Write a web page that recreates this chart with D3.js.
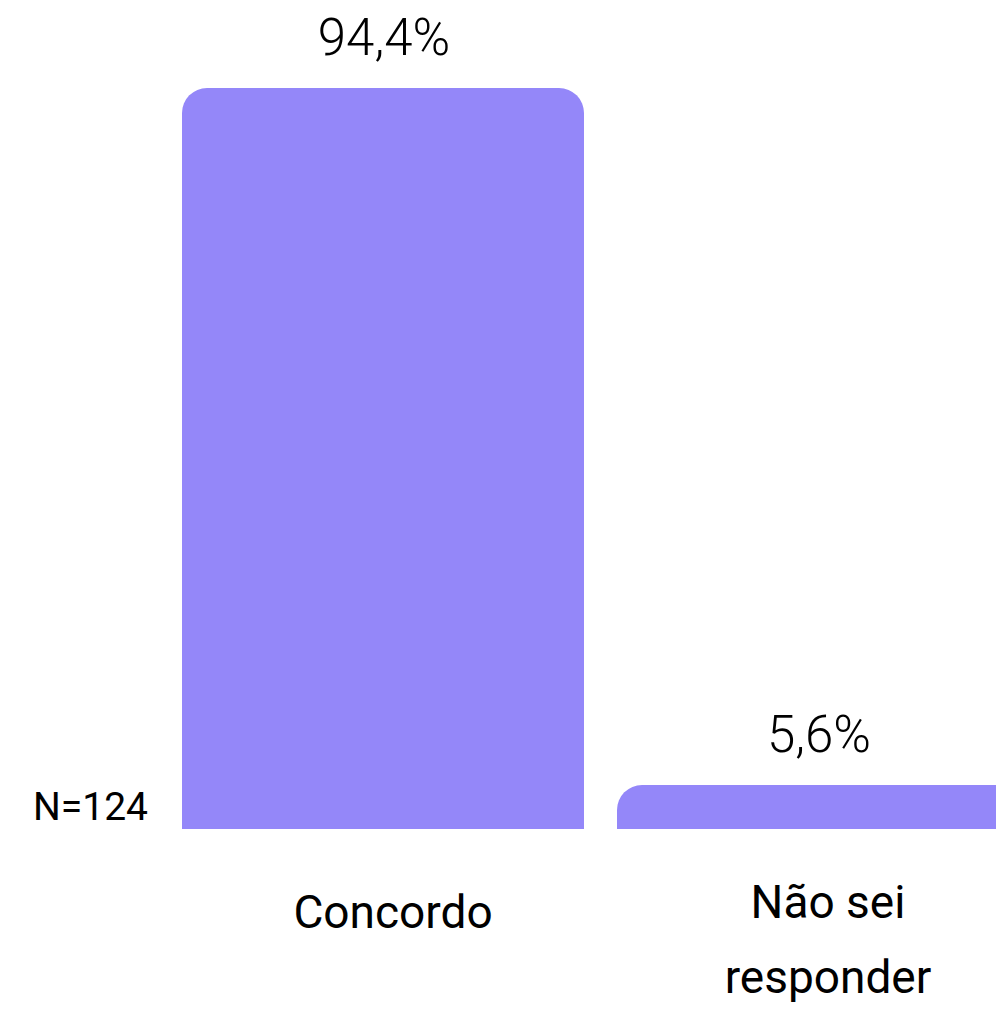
<!DOCTYPE html>
<html><head><meta charset="utf-8">
<script src="https://cdn.jsdelivr.net/npm/d3@7"></script>
<style>
html,body{margin:0;padding:0;background:#fff;}
svg{display:block;}
</style></head>
<body>
<script>
const categories = ["Concordo", "Não sei responder"];
const categoryLines = [["Concordo"], ["Não sei", "responder"]];
const values = [94.4, 5.6];
const valueLabels = ["94,4%", "5,6%"];
const sampleNote = "N=124";

const W = 996, H = 1011;
const svg = d3.select("body").append("svg").attr("width", W).attr("height", H);

const x = d3.scaleBand().domain(categories).range([182, 1019]).paddingInner(33/435).paddingOuter(0);
const y = d3.scaleLinear().domain([0, 94.4]).range([829, 88]);
const color = "#9487F9";
const r = 25;

function barPath(x0, y0, w, h) {
  const rr = Math.min(r, h, w/2);
  return `M${x0},${y0+h} L${x0},${y0+rr} A${rr},${rr} 0 0 1 ${x0+rr},${y0} L${x0+w-rr},${y0} A${rr},${rr} 0 0 1 ${x0+w},${y0+rr} L${x0+w},${y0+h} Z`;
}

svg.selectAll("path.bar").data(categories).join("path")
  .attr("class","bar")
  .attr("fill", color)
  .attr("d", (d,i) => barPath(x(d), y(values[i]), x.bandwidth(), y(0) - y(values[i])));

svg.selectAll("text.val").data(categories).join("text")
  .attr("class","val")
  .attr("x", d => x(d) + x.bandwidth()/2 + 1)
  .attr("y", (d,i) => y(values[i]) - 33)
  .attr("text-anchor","middle")
  .attr("font-family","Roboto, sans-serif")
  .attr("font-weight", 300)
  .attr("font-size", 51)
  .attr("fill","#000")
  .text((d,i) => valueLabels[i]);

// x axis labels
const axis = d3.axisBottom(x).tickSize(0).tickFormat("");
const gx = svg.append("g").attr("transform", `translate(0,${y(0)})`).call(axis);
gx.select(".domain").remove();
gx.selectAll(".tick").each(function(d, i) {
  const lines = categoryLines[i];
  const t = d3.select(this).append("text")
    .attr("text-anchor","middle")
    .attr("font-family","Roboto, sans-serif")
    .attr("font-size", 46)
    .attr("fill","#000")
    .attr("x", 10);
  lines.forEach((ln, j) => {
    t.append("tspan").attr("x", 10)
      .attr("y", 99 - 10*(lines.length-1) + j*75)
      .text(ln);
  });
});

svg.append("text")
  .attr("x", 148).attr("y", y(0) - 9)
  .attr("text-anchor","end")
  .attr("font-family","Roboto, sans-serif")
  .attr("font-size", 39)
  .attr("fill","#000")
  .text(sampleNote);
</script>
</body></html>
